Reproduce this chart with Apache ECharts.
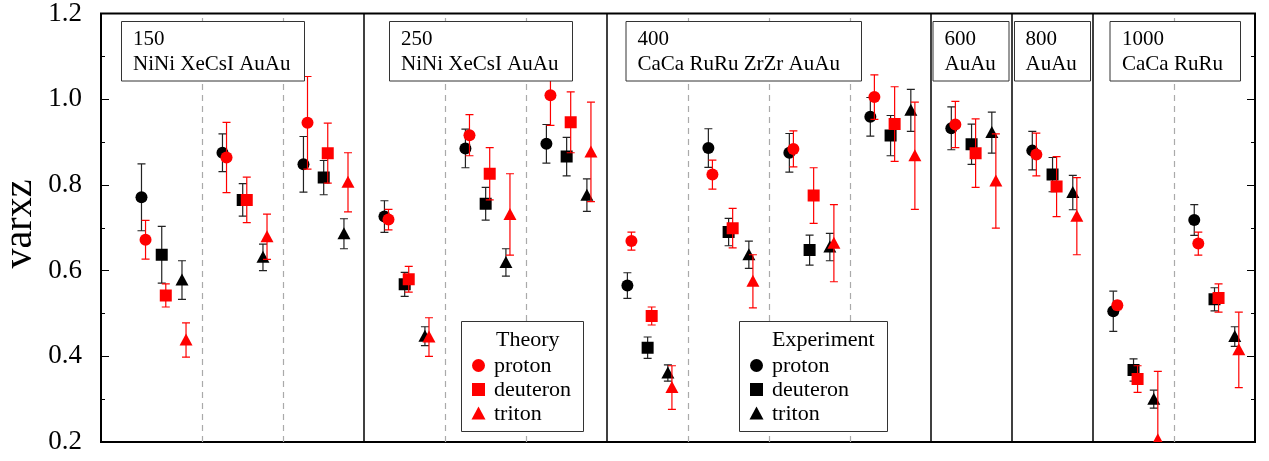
<!DOCTYPE html>
<html>
<head>
<meta charset="utf-8">
<script src="https://cdn.jsdelivr.net/npm/echarts@6/dist/echarts.min.js"></script>
<style>html,body{margin:0;padding:0;background:#fff}#c{width:1269px;height:461px}</style>
</head>
<body>
<div id="c"></div>
<script>
// 14 groups (system + energy), each occupies one unit on the x axis
const groups = ['NiNi 150','XeCsI 150','AuAu 150','NiNi 250','XeCsI 250','AuAu 250',
  'CaCa 400','RuRu 400','ZrZr 400','AuAu 400','AuAu 600','AuAu 800','CaCa 1000','RuRu 1000'];
const panelLabels = [['150','NiNi XeCsI AuAu'],['250','NiNi XeCsI AuAu'],['400','CaCa RuRu ZrZr AuAu'],
  ['600','AuAu'],['800','AuAu'],['1000','CaCa RuRu']];
const panelBounds = [3, 6, 10, 11, 12];
const groupBounds = [1, 2, 4, 5, 7, 8, 9, 13];
const yTicks = [0.2, 0.4, 0.6, 0.8, 1.0, 1.2];

// Experiment
const expProton    = [0.771,0.875,0.848,0.726,0.885,0.896,0.565,0.886,0.875,0.959,0.932,0.880,0.505,0.718];
const expProtonErr = [0.078,0.044,0.065,0.037,0.045,0.045,0.030,0.045,0.045,0.045,0.050,0.045,0.047,0.036];
const expDeut      = [0.637,0.765,0.817,0.568,0.756,0.866,0.420,0.690,0.648,0.915,0.895,0.824,0.368,0.533];
const expDeutErr   = [0.066,0.038,0.040,0.028,0.038,0.045,0.025,0.032,0.035,0.047,0.047,0.040,0.026,0.027];
const expTrit      = [0.578,0.631,0.686,0.447,0.619,0.776,0.361,0.637,0.655,0.974,0.922,0.782,0.300,0.446];
const expTritErr   = [0.045,0.031,0.035,0.022,0.032,0.038,0.019,0.032,0.032,0.049,0.048,0.040,0.021,0.023];
// Theory
const thProton     = [0.672,0.864,0.945,0.719,0.916,1.009,0.669,0.824,0.884,1.005,0.941,0.871,0.519,0.663];
const thProtonErr  = [0.045,0.082,0.108,0.024,0.048,0.070,0.021,0.034,0.042,0.052,0.054,0.050,0.010,0.027];
const thDeut       = [0.542,0.765,0.874,0.580,0.826,0.946,0.494,0.699,0.775,0.942,0.874,0.796,0.347,0.536];
const thDeutErr    = [0.027,0.053,0.070,0.030,0.061,0.071,0.021,0.046,0.065,0.087,0.080,0.070,0.031,0.033];
const thTrit       = [0.438,0.679,0.806,0.445,0.731,0.877,0.327,0.575,0.664,0.868,0.809,0.727,0.205,0.415];
const thTritErr    = [0.040,0.053,0.069,0.045,0.095,0.116,0.051,0.062,0.090,0.125,0.110,0.090,0.160,0.088];

const FONT = 'Liberation Serif';
const RED = '#ff0000';

function markerEl(shape, cx, cy, color, s) {
  if (shape === 'circle') return {type:'circle', shape:{cx, cy, r:s}, style:{fill:color}};
  if (shape === 'square') return {type:'rect', shape:{x:cx-s, y:cy-s, width:2*s, height:2*s}, style:{fill:color}};
  return {type:'polygon', shape:{points:[[cx, cy-s-0.5],[cx+s+0.5, cy+s-0.5],[cx-s-0.5, cy+s-0.5]]}, style:{fill:color}};
}

function makeSeries(name, vals, errs, offset, shape, color, barColor) {
  return {
    type: 'custom', name, clip: true, z: 3,
    encode: {x: 0, y: 1},
    data: vals.map((v, i) => [i + offset, v, errs[i]]),
    renderItem: function (params, api) {
      const x = api.value(0), y = api.value(1), e = api.value(2);
      const c = api.coord([x, y]);
      const t = api.coord([x, y + e]);
      const b = api.coord([x, y - e]);
      const cap = 4;
      const ls = {stroke: barColor, lineWidth: 1.2};
      return {type: 'group', children: [
        {type:'line', shape:{x1:c[0], y1:t[1], x2:c[0], y2:b[1]}, style:ls},
        {type:'line', shape:{x1:c[0]-cap, y1:t[1], x2:c[0]+cap, y2:t[1]}, style:ls},
        {type:'line', shape:{x1:c[0]-cap, y1:b[1], x2:c[0]+cap, y2:b[1]}, style:ls},
        markerEl(shape, c[0], c[1], color, 6)
      ]};
    }
  };
}

const series = [
  {type:'line', data:[], z:1, silent:true,
   markLine:{silent:true, symbol:'none', label:{show:false},
     data: groupBounds.map(v => ({xAxis:v, lineStyle:{color:'#aaa', width:1.2, type:[6,5]}}))
       .concat(panelBounds.map(v => ({xAxis:v, lineStyle:{color:'#000', width:1.5, type:'solid'}})))}},
  makeSeries('exp proton', expProton, expProtonErr, 0.25, 'circle', '#000', '#222'),
  makeSeries('exp deuteron', expDeut, expDeutErr, 0.50, 'square', '#000', '#222'),
  makeSeries('exp triton', expTrit, expTritErr, 0.75, 'triangle', '#000', '#222'),
  makeSeries('th proton', thProton, thProtonErr, 0.30, 'circle', RED, RED),
  makeSeries('th deuteron', thDeut, thDeutErr, 0.55, 'square', RED, RED),
  makeSeries('th triton', thTrit, thTritErr, 0.80, 'triangle', RED, RED)
];

// label boxes
const boxes = [
  {x:121.5, w:183, tx:133},
  {x:389.5, w:183, tx:401},
  {x:626, w:235.5, tx:637.5},
  {x:933, w:76, tx:944.5},
  {x:1014.5, w:76, tx:1025.5},
  {x:1110, w:130.5, tx:1122}
];
const graphics = [];
boxes.forEach((b, i) => {
  graphics.push({type:'rect', z:100, shape:{x:b.x, y:21.5, width:b.w, height:59.5},
    style:{fill:'#fff', stroke:'#333', lineWidth:1}});
  graphics.push({type:'text', z:101, x:b.tx, y:39.5,
    style:{text:panelLabels[i][0], font:'21px "' + FONT + '"', fill:'#000', verticalAlign:'middle', align:'left'}});
  graphics.push({type:'text', z:101, x:b.tx, y:64,
    style:{text:panelLabels[i][1], font:'21px "' + FONT + '"', fill:'#000', verticalAlign:'middle', align:'left'}});
});
// legends
function legend(x0, w, title, color, mx, tx, titleX) {
  graphics.push({type:'rect', z:100, shape:{x:x0, y:321.5, width:w, height:110},
    style:{fill:'#fff', stroke:'#333', lineWidth:1}});
  graphics.push({type:'text', z:101, x:titleX, y:340,
    style:{text:title, font:'22px "' + FONT + '"', fill:'#000', verticalAlign:'middle', align:'left'}});
  const names = ['proton','deuteron','triton'];
  const shapes = ['circle','square','triangle'];
  names.forEach((n, k) => {
    const cy = 365.5 + 24 * k;
    const m = markerEl(shapes[k], mx, cy, color, 6.5);
    m.z = 101;
    graphics.push(m);
    graphics.push({type:'text', z:101, x:tx, y:cy + 1,
      style:{text:n, font:'22px "' + FONT + '"', fill:'#000', verticalAlign:'middle', align:'left'}});
  });
}
legend(461.5, 122, 'Theory', RED, 478.5, 494, 496);
legend(739.5, 148, 'Experiment', '#000', 756.5, 772, 772);
graphics.push({type:'text', z:101, x:20, y:224, rotation:Math.PI/2,
  style:{text:'varxz', font:'40px "' + FONT + '"', fill:'#000', verticalAlign:'middle', align:'center'}});

const yAxisCommon = {
  type:'value', min:yTicks[0], max:yTicks[yTicks.length-1], interval:0.2,
  axisLine:{show:false, onZero:false}, splitLine:{show:false},
  axisTick:{show:true, inside:true, length:8, lineStyle:{color:'#000', width:1}},
  minorTick:{show:true, splitNumber:2, length:4, lineStyle:{color:'#000', width:1}},
  minorSplitLine:{show:false}
};

const chart = echarts.init(document.getElementById('c'), null, {renderer:'canvas'});
chart.setOption({
  animation:false,
  backgroundColor:'#fff',
  grid:{left:101, right:14, top:10, bottom:19, show:true, borderColor:'#000', borderWidth:2, backgroundColor:'transparent'},
  xAxis:{type:'value', min:-0.25, max:groups.length, show:false},
  yAxis:[
    Object.assign({}, yAxisCommon, {position:'left',
      axisLabel:{show:true, margin:19, fontFamily:FONT, fontSize:27, color:'#000', formatter: v => v.toFixed(1)}}),
    Object.assign({}, yAxisCommon, {position:'right', axisLabel:{show:false}})
  ],
  graphic: graphics,
  series: series
});
</script>
</body>
</html>
